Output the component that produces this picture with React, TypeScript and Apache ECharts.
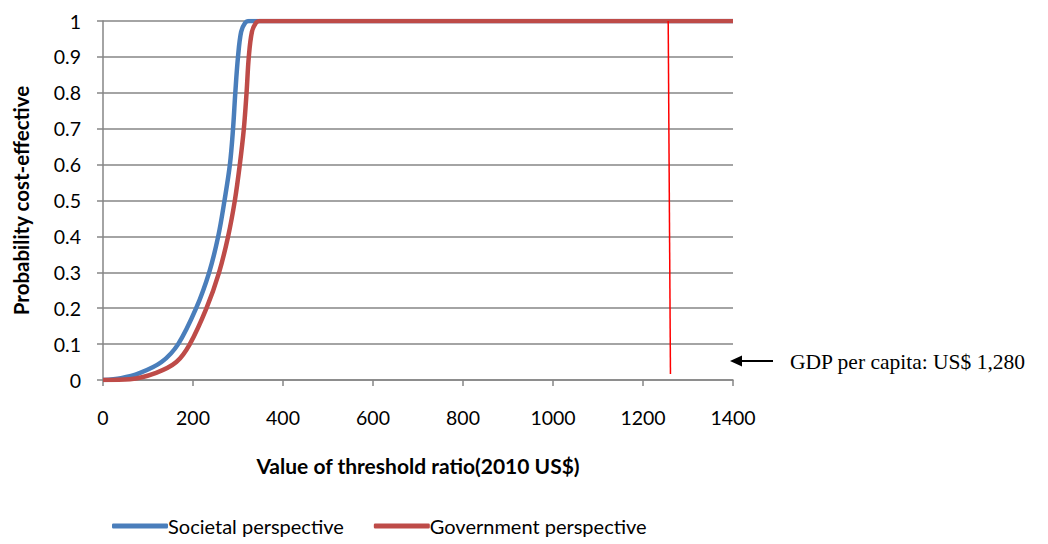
import React, { useEffect, useRef } from "react";
import * as echarts from "echarts";

const societalX = [0, 40, 81, 130, 167, 207, 236, 256, 270, 282, 289, 294, 300, 307, 316, 324, 1400];
const societalY = [0, 0.005, 0.019, 0.05, 0.1, 0.2, 0.3, 0.4, 0.5, 0.6, 0.7, 0.8, 0.9, 0.97, 0.995, 1, 1];
const governmentX = [0, 60, 118, 163, 193, 230, 258, 278, 293, 304, 313, 319, 324, 331, 340, 348, 1400];
const governmentY = [0, 0.002, 0.02, 0.05, 0.1, 0.2, 0.3, 0.4, 0.5, 0.6, 0.7, 0.8, 0.9, 0.97, 0.995, 1, 1];
const gdpLineX = [1256, 1261];
const gdpLineY = [1, 0.017];
const seriesNames = ["Societal perspective", "Government perspective"];
const gdpLabel = "GDP per capita: US$ 1,280";
const xAxisTitle = "Value of threshold ratio(2010 US$)";
const yAxisTitle = "Probability cost-effective";

const FONT = "Lato, 'Open Sans', sans-serif";

export default function App() {
  const ref = useRef<HTMLDivElement>(null);
  useEffect(() => {
    if (!ref.current) return;
    const chart = echarts.init(ref.current, undefined, { renderer: "svg" });
    const zip = (xs: number[], ys: number[]) => xs.map((x, i) => [x, ys[i]]);
    chart.setOption({
      animation: false,
      backgroundColor: "#ffffff",
      textStyle: { fontFamily: FONT },
      grid: { left: 103, right: 315, top: 21, bottom: 164, containLabel: false },
      legend: {
        data: seriesNames,
        bottom: 3,
        left: 107,
        itemWidth: 56,
        itemHeight: 5,
        itemGap: 30,
        icon: "roundRect",
        textStyle: { fontSize: 20, fontFamily: FONT, color: "#000", padding: [0, 0, 0, -5] },
      },
      xAxis: {
        type: "value",
        min: 0,
        max: 1400,
        interval: 200,
        name: xAxisTitle,
        nameLocation: "middle",
        nameGap: 75,
        nameTextStyle: { fontSize: 21, fontWeight: "bold", color: "#000", fontFamily: FONT },
        axisLine: { show: true, lineStyle: { color: "#868686", width: 1.5 } },
        axisTick: { show: true, length: 6, lineStyle: { color: "#868686", width: 1.5 } },
        axisLabel: { fontSize: 19.5, color: "#000", margin: 27, fontFamily: FONT, formatter: (v: number) => String(v) },
        splitLine: { show: false },
      },
      yAxis: {
        type: "value",
        min: 0,
        max: 1,
        interval: 0.1,
        name: yAxisTitle,
        nameLocation: "middle",
        nameGap: 72,
        nameRotate: 90,
        nameTextStyle: { fontSize: 20.5, fontWeight: "bold", color: "#000", fontFamily: FONT },
        axisLine: { show: true, lineStyle: { color: "#868686", width: 1.5 } },
        axisTick: { show: true, length: 6, lineStyle: { color: "#868686", width: 1.5 } },
        axisLabel: { fontSize: 19.5, color: "#000", margin: 22, fontFamily: FONT },
        splitLine: { show: true, lineStyle: { color: "#868686", width: 1.5 } },
      },
      series: [
        {
          name: seriesNames[0],
          type: "line",
          data: zip(societalX, societalY),
          showSymbol: false,
          smooth: 0.35,
          lineStyle: { color: "#4A7EBB", width: 4.5 },
          itemStyle: { color: "#4A7EBB" },
          z: 3,
        },
        {
          name: seriesNames[1],
          type: "line",
          data: zip(governmentX, governmentY),
          showSymbol: false,
          smooth: 0.35,
          lineStyle: { color: "#BE4B48", width: 4.5 },
          itemStyle: { color: "#BE4B48" },
          z: 4,
        },
        {
          name: "GDP",
          type: "line",
          data: zip(gdpLineX, gdpLineY),
          showSymbol: false,
          lineStyle: { color: "#FF0000", width: 1.5 },
          itemStyle: { color: "#FF0000" },
          z: 5,
        },
      ],
      graphic: [
        {
          type: "line",
          shape: { x1: 773, y1: 361, x2: 738, y2: 361 },
          style: { stroke: "#000", lineWidth: 2 },
        },
        {
          type: "polygon",
          shape: { points: [[730, 361], [742, 355.5], [742, 366.5]] },
          style: { fill: "#000" },
        },
        {
          type: "text",
          x: 790,
          y: 362,
          style: {
            text: gdpLabel,
            font: "21.5px 'Liberation Serif', 'DejaVu Serif', serif",
            fill: "#000",
            textVerticalAlign: "middle",
            verticalAlign: "middle",
          },
        },
      ],
    });
    return () => chart.dispose();
  }, []);
  return (
    <div
      ref={ref}
      style={{ position: "absolute", left: 0, top: 0, width: 1048, height: 544 }}
    />
  );
}
